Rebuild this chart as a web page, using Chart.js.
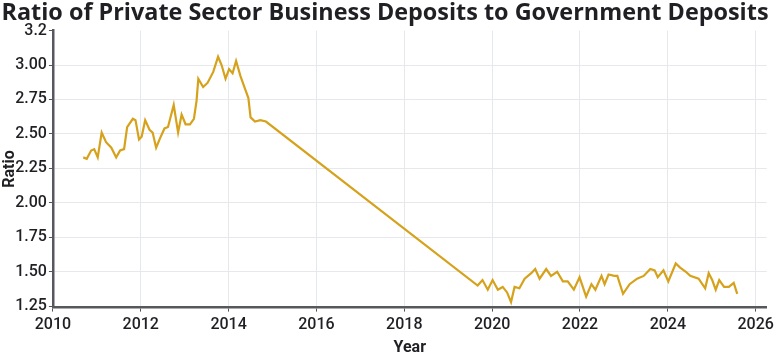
<!DOCTYPE html>
<html>
<head>
<meta charset="utf-8">
<script src="https://cdn.jsdelivr.net/npm/chart.js@4.4.1/dist/chart.umd.min.js"></script>
<style>
    html, body { margin: 0; padding: 0; background: #fff; }
    #wrap { width: 778px; height: 358px; }
</style>
</head>
<body>
<div id="wrap"><canvas id="ratioChart"></canvas></div>
<script>
// decimal years and ratio values
const years = [
    2010.69, 2010.77, 2010.87, 2010.94, 2011.02, 2011.11, 2011.21, 2011.33, 2011.44, 2011.53,
    2011.62, 2011.69, 2011.82, 2011.88, 2011.96, 2012.02, 2012.10, 2012.20, 2012.27, 2012.35,
    2012.44, 2012.54, 2012.62, 2012.75, 2012.85, 2012.93, 2013.02, 2013.12, 2013.21, 2013.27,
    2013.31, 2013.42, 2013.52, 2013.65, 2013.76, 2013.84, 2013.93, 2014.01, 2014.09, 2014.17,
    2014.27, 2014.37, 2014.45, 2014.50, 2014.60, 2014.72, 2014.85,
    2019.67, 2019.78, 2019.90, 2020.01, 2020.13, 2020.24, 2020.34, 2020.43, 2020.51, 2020.62,
    2020.74, 2020.89, 2020.98, 2021.08, 2021.23, 2021.34, 2021.48, 2021.61, 2021.72, 2021.86,
    2021.99, 2022.14, 2022.26, 2022.35, 2022.49, 2022.56, 2022.65, 2022.78, 2022.85, 2022.98,
    2023.13, 2023.30, 2023.45, 2023.60, 2023.70, 2023.77, 2023.90, 2024.01, 2024.18, 2024.28,
    2024.41, 2024.51, 2024.70, 2024.85, 2024.93, 2025.01, 2025.09, 2025.17, 2025.28, 2025.39,
    2025.50, 2025.58
];
const ratios = [
    2.33, 2.32, 2.38, 2.39, 2.33, 2.51, 2.44, 2.40, 2.33, 2.38,
    2.39, 2.55, 2.61, 2.60, 2.46, 2.48, 2.60, 2.53, 2.51, 2.40,
    2.47, 2.54, 2.55, 2.71, 2.51, 2.64, 2.57, 2.57, 2.61, 2.74,
    2.90, 2.84, 2.87, 2.95, 3.06, 3.00, 2.90, 2.97, 2.94, 3.03,
    2.92, 2.83, 2.76, 2.62, 2.59, 2.60, 2.59,
    1.40, 1.44, 1.37, 1.44, 1.37, 1.39, 1.35, 1.28, 1.39, 1.38,
    1.45, 1.49, 1.52, 1.45, 1.52, 1.47, 1.50, 1.43, 1.43, 1.37,
    1.46, 1.32, 1.41, 1.37, 1.47, 1.41, 1.48, 1.47, 1.47, 1.34,
    1.41, 1.45, 1.47, 1.52, 1.51, 1.46, 1.51, 1.43, 1.56, 1.53,
    1.50, 1.47, 1.45, 1.38, 1.49, 1.44, 1.37, 1.44, 1.39, 1.39,
    1.42, 1.34
];
const xTicks = [2010, 2012, 2014, 2016, 2018, 2020, 2022, 2024, 2026];
const yTicks = [1.25, 1.5, 1.75, 2.0, 2.25, 2.5, 2.75, 3.0, 3.25];
const yTopLabel = '3.2';

const tickFont = { family: 'Roboto', size: 16, weight: '500' };
const inkColor = '#1f1f24';

const ctx = document.getElementById('ratioChart').getContext('2d');
new Chart(ctx, {
    type: 'line',
    data: {
        datasets: [{
            data: years.map((y, i) => ({ x: y, y: ratios[i] })),
            borderColor: '#d6a21c',
            borderWidth: 2.2,
            pointRadius: 0,
            tension: 0,
            fill: false
        }]
    },
    options: {
        responsive: true,
        maintainAspectRatio: false,
        animation: false,
        layout: { padding: { left: 0, right: 8, top: 0, bottom: 0 } },
        plugins: {
            legend: { display: false },
            tooltip: { enabled: false },
            title: {
                display: true,
                text: 'Ratio of Private Sector Business Deposits to Government Deposits',
                color: inkColor,
                font: { family: 'Open Sans', size: 23.4, weight: 'bold', lineHeight: 1.05 },
                padding: { top: 1, bottom: 5 }
            }
        },
        scales: {
            x: {
                type: 'linear',
                min: 2010,
                max: 2026.25,
                afterBuildTicks: scale => { scale.ticks = xTicks.map(v => ({ value: v })); },
                ticks: {
                    color: inkColor,
                    font: tickFont,
                    maxRotation: 0,
                    padding: 4,
                    callback: v => String(v)
                },
                grid: { color: '#e6e8ec', tickLength: 4, tickColor: '#555' },
                border: { color: '#55585c', width: 2.5 },
                title: {
                    display: true,
                    text: 'Year',
                    color: inkColor,
                    font: { family: 'Roboto', size: 16, weight: 'bold' },
                    padding: { top: 0, bottom: 0 }
                }
            },
            y: {
                min: 1.24,
                max: 3.25,
                afterBuildTicks: scale => { scale.ticks = yTicks.map(v => ({ value: v })); },
                ticks: {
                    color: inkColor,
                    font: tickFont,
                    padding: 2,
                    callback: v => (v === 3.25 ? yTopLabel : v.toFixed(2))
                },
                grid: {
                    color: c => (c.tick && c.tick.value === 3.25 ? 'rgba(0,0,0,0)' : '#e6e8ec'),
                    tickLength: 4,
                    tickColor: '#555'
                },
                border: { color: '#55585c', width: 2.5 },
                title: {
                    display: true,
                    text: 'Ratio',
                    color: inkColor,
                    font: { family: 'Roboto', size: 16, weight: 'bold' },
                    padding: { top: 0, bottom: -6 }
                }
            }
        }
    }
});
</script>
</body>
</html>
